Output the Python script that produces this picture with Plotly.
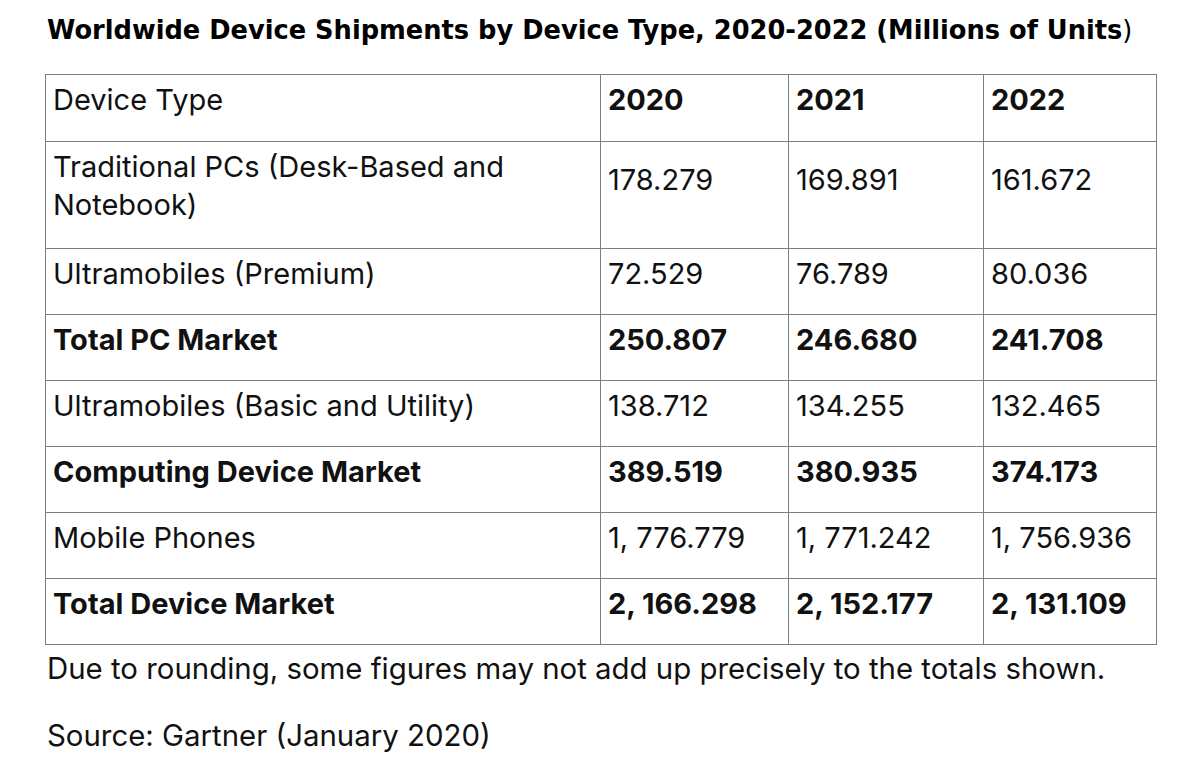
import plotly.graph_objects as go

title = "Worldwide Device Shipments by Device Type, 2020-2022 (Millions of Units"
years = ["2020", "2021", "2022"]
device_types = [
    "Traditional PCs (Desk-Based and<br>Notebook)",
    "Ultramobiles (Premium)",
    "Total PC Market",
    "Ultramobiles (Basic and Utility)",
    "Computing Device Market",
    "Mobile Phones",
    "Total Device Market",
]
is_total = [False, False, True, False, True, False, True]
v2020 = [178.279, 72.529, 250.807, 138.712, 389.519, 1776.779, 2166.298]
v2021 = [169.891, 76.789, 246.680, 134.255, 380.935, 1771.242, 2152.177]
v2022 = [161.672, 80.036, 241.708, 132.465, 374.173, 1756.936, 2131.109]
footnote = "Due to rounding, some figures may not add up precisely to the totals shown."
source = "Source: Gartner (January 2020)"

# the page body has an 8px margin; layout positions below are in page pixels
OFF = 8
W, H = 1200, 773
BODY = "Inter, sans-serif"

# invisible spacers: one deepens the two-line row, one centres its numbers
ROW_SPACER = "<span style='font-size:113px'><sub><span style='font-size:10px'>&nbsp;</span></sub></span>"
MID_SPACER = "<sub><sub>&nbsp;</sub></sub><br>"


def wrap(s, bold):
    return f"<b>{s}</b>" if bold else f"<span>{s}</span>"


def fmt(v, i):
    s = wrap(f"{v:,.3f}".replace(",", ", "), is_total[i])
    if "<br>" in device_types[i]:
        s = MID_SPACER + s
    return s


col0 = [wrap(t, b) + (ROW_SPACER if "<br>" in t else "") for t, b in zip(device_types, is_total)]
cols = [col0] + [[fmt(v, i) for i, v in enumerate(vals)] for vals in (v2020, v2021, v2022)]

left, right, top = 45 - OFF, 1156 - OFF, 74 - OFF

fig = go.Figure(
    go.Table(
        domain=dict(x=[left / W, right / W], y=[0, 1 - top / H]),
        columnwidth=[555, 188, 195, 173],
        header=dict(
            values=[wrap("Device Type", False)] + [wrap(y, True) for y in years],
            align="left",
            height=67,
            line=dict(color="#7f7f7f", width=1),
            fill=dict(color="white"),
            font=dict(family=BODY, size=29, color="#111"),
        ),
        cells=dict(
            values=cols,
            align="left",
            height=66,
            line=dict(color="#7f7f7f", width=1),
            fill=dict(color="white"),
            font=dict(family=BODY, size=29, color="#111"),
        ),
    )
)

fig.add_annotation(
    text=f"<b>{title}</b>)", xref="paper", yref="paper", x=(48 - OFF - 3) / W, y=1 - (30 - OFF) / H,
    xanchor="left", yanchor="middle", showarrow=False,
    font=dict(family="DejaVu Sans, sans-serif", size=25.7, color="#000"),
)
fig.add_annotation(
    text=footnote, xref="paper", yref="paper", x=(48 - OFF - 3) / W, y=1 - (668 - OFF) / H,
    xanchor="left", yanchor="middle", showarrow=False,
    font=dict(family=BODY, size=29.4, color="#111"),
)
fig.add_annotation(
    text=source, xref="paper", yref="paper", x=(48 - OFF - 3) / W, y=1 - (735 - OFF) / H,
    xanchor="left", yanchor="middle", showarrow=False,
    font=dict(family=BODY, size=29.4, color="#111"),
)

fig.update_layout(
    width=W, height=H,
    margin=dict(l=0, r=0, t=0, b=0),
    paper_bgcolor="white", plot_bgcolor="white",
)
fig.write_html("out.html")
